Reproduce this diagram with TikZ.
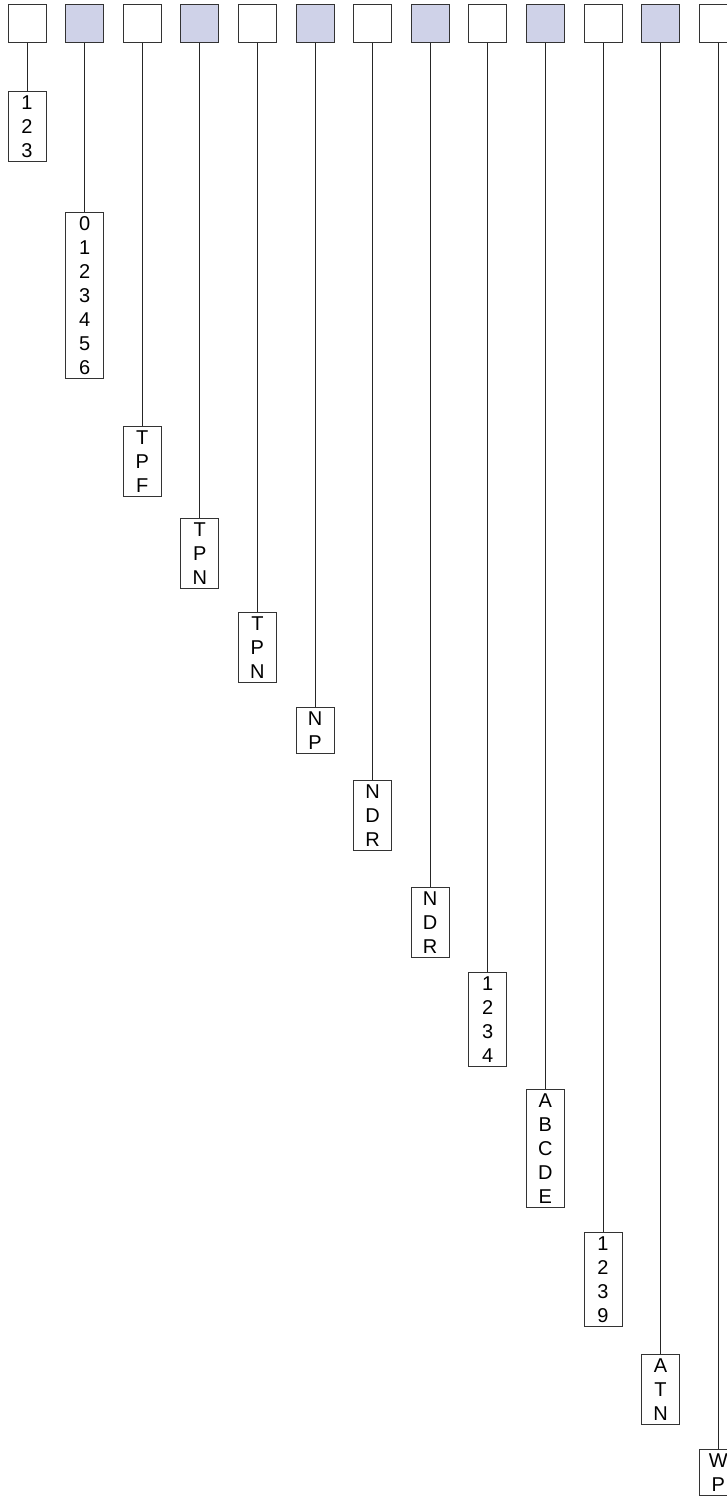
\documentclass[tikz,border=0pt]{standalone}
\usepackage{fontspec}
\setmainfont{Liberation Sans}
\usetikzlibrary{positioning}
\definecolor{slotfill}{RGB}{207,210,232}

\begin{document}
\begin{tikzpicture}[
  x=1pt, y=-1pt,
  head/.style={rectangle, draw=black!80, line width=1pt, minimum width=38pt, minimum height=38pt, inner sep=0pt},
  tag/.style={rectangle, draw=black!80, line width=1pt, minimum width=38pt, inner xsep=0pt, inner ysep=4pt,
    align=center, anchor=north, font=\fontsize{20}{24}\selectfont},
  link/.style={draw=black!85, line width=1pt}
]
  \useasboundingbox (0,0) rectangle (727,1497);
  % heads along the top, every second one shaded
  \foreach \i in {1,...,13} {
    \ifodd\i \def\fillc{white}\else\def\fillc{slotfill}\fi
    \node[head, fill=\fillc] (h\i) at ({27+57.6*(\i-1)},23) {};
  }
  % tags hanging below, stepping down
  \foreach \i/\top/\txt in {1/91/{1\\2\\3}, 2/212/{0\\1\\2\\3\\4\\5\\6}, 3/426/{T\\P\\F},
      4/518/{T\\P\\N}, 5/612/{T\\P\\N}, 6/707/{N\\P}, 7/780/{N\\D\\R}, 8/887/{N\\D\\R},
      9/972/{1\\2\\3\\4}, 10/1089/{A\\B\\C\\D\\E}, 11/1232/{1\\2\\3\\9}, 12/1354/{A\\T\\N},
      13/1449/{W\\P}} {
    \node[tag] (t\i) at ({27+57.6*(\i-1)},\top) {\txt};
    \draw[link] (h\i.south) -- (t\i.north);
  }
\end{tikzpicture}
\end{document}
